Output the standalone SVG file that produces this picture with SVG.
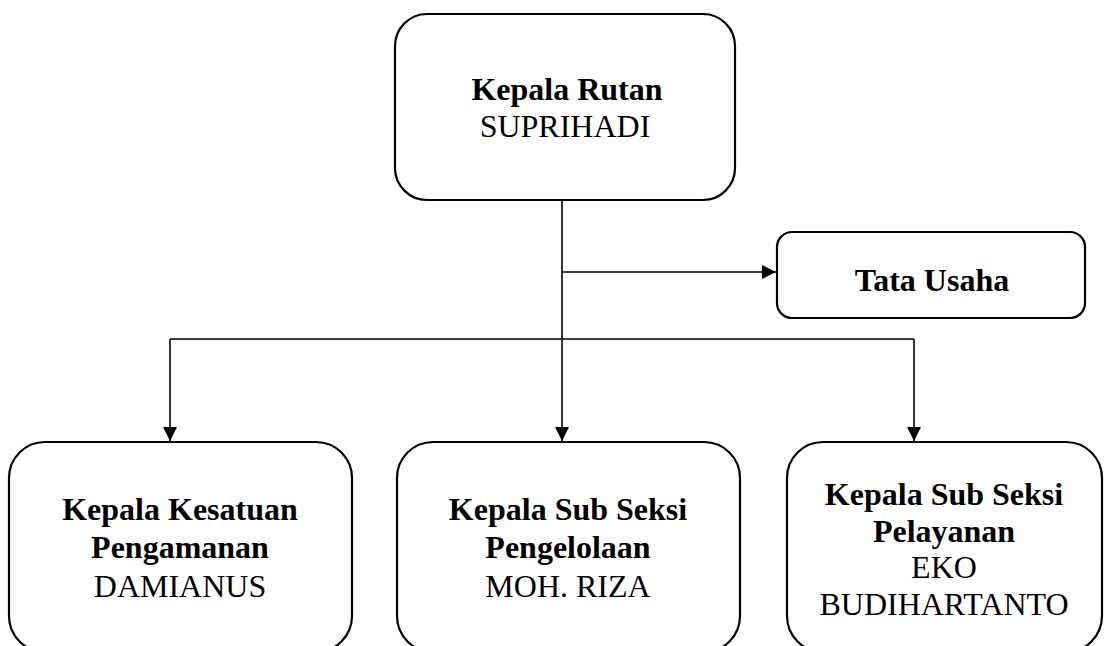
<svg xmlns="http://www.w3.org/2000/svg" width="1110" height="646" viewBox="0 0 1110 646">
<style>
.box{fill:#fff;stroke:#000;stroke-width:2.2}
.ln{fill:none;stroke:#000;stroke-width:1.6}
text{font-family:"Liberation Serif","Times New Roman",serif;font-size:32px;text-anchor:middle;fill:#000}
.b{font-weight:bold}
</style>
<defs>
<marker id="ah" viewBox="0 0 10 10" refX="10" refY="5" markerWidth="14" markerHeight="14" markerUnits="userSpaceOnUse" orient="auto">
<path d="M0,0 L10,5 L0,10 Z" fill="#000"/>
</marker>
</defs>
<g id="connectors">
<line class="ln" x1="562" y1="200" x2="562" y2="441" marker-end="url(#ah)"/>
<line class="ln" x1="562" y1="272" x2="776" y2="272" marker-end="url(#ah)"/>
<line class="ln" x1="170" y1="339" x2="914" y2="339"/>
<line class="ln" x1="170" y1="339" x2="170" y2="441" marker-end="url(#ah)"/>
<line class="ln" x1="914" y1="339" x2="914" y2="441" marker-end="url(#ah)"/>
</g>
<g id="kepala-rutan">
<rect class="box" x="395" y="14" width="340" height="186" rx="32"/>
<text class="b" x="567" y="100">Kepala Rutan</text>
<text x="565" y="137">SUPRIHADI</text>
</g>
<g id="tata-usaha">
<rect class="box" x="777" y="232" width="308" height="86" rx="15"/>
<text class="b" x="932" y="291">Tata Usaha</text>
</g>
<g id="kesatuan-pengamanan">
<rect class="box" x="9" y="442" width="343" height="210" rx="36"/>
<text class="b" x="180" y="520">Kepala Kesatuan</text>
<text class="b" x="180" y="558">Pengamanan</text>
<text x="180" y="597">DAMIANUS</text>
</g>
<g id="pengelolaan">
<rect class="box" x="397" y="442" width="343" height="210" rx="36"/>
<text class="b" x="568" y="520">Kepala Sub Seksi</text>
<text class="b" x="568" y="558">Pengelolaan</text>
<text x="568" y="597">MOH. RIZA</text>
</g>
<g id="pelayanan">
<rect class="box" x="787" y="442" width="315" height="210" rx="36"/>
<text class="b" x="944" y="505">Kepala Sub Seksi</text>
<text class="b" x="944" y="542">Pelayanan</text>
<text x="944" y="578">EKO</text>
<text x="944" y="615">BUDIHARTANTO</text>
</g>
</svg>
